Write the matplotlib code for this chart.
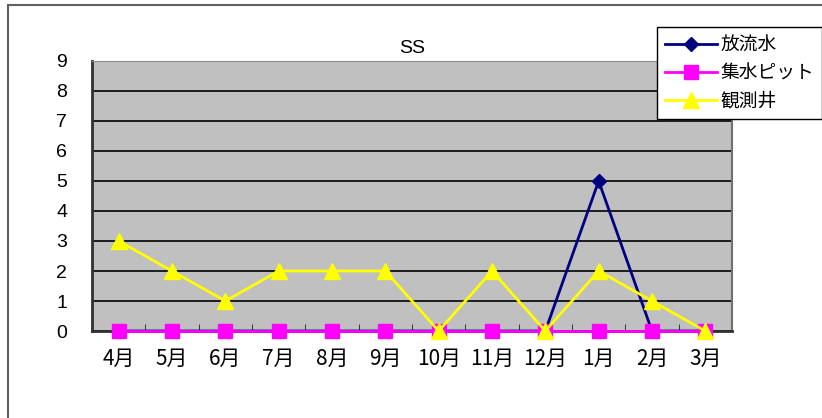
import matplotlib.pyplot as plt
from matplotlib.patches import Rectangle
import numpy as np

plt.rcParams['font.family'] = ['Noto Sans CJK JP', 'DejaVu Sans']

# データ
months = ['4月', '5月', '6月', '7月', '8月', '9月', '10月', '11月', '12月', '1月', '2月', '3月']
houryusui = [0, 0, 0, 0, 0, 0, 0, 0, 0, 5, 0, 0]      # 放流水
shusui_pit = [0, 0, 0, 0, 0, 0, 0, 0, 0, 0, 0, 0]     # 集水ピット
kansokusei = [3, 2, 1, 2, 2, 2, 0, 2, 0, 2, 1, 0]     # 観測井
yticks = [0, 1, 2, 3, 4, 5, 6, 7, 8, 9]

W, H = 822, 418
fig = plt.figure(figsize=(W / 100, H / 100), dpi=100)
ax = fig.add_axes([92 / W, 1 - 331 / H, 640 / W, 270 / H])
ax.set_facecolor('#c0c0c0')

x = np.arange(len(months))
ax.plot(x, houryusui, color='#000080', marker='D', markersize=7, lw=2, label='放流水', zorder=3, clip_on=False)
ax.plot(x, shusui_pit, color='#ff00ff', marker='s', markersize=10, lw=2, label='集水ピット', zorder=4, clip_on=False)
ax.plot(x, kansokusei, color='#ffff00', marker='^', markersize=11, lw=2, label='観測井', zorder=5, clip_on=False)

ax.set_xlim(-0.5, len(months) - 0.5)
ax.set_ylim(0, 9)
ax.set_yticks(yticks)
ax.set_yticklabels([str(v) for v in yticks], family='Liberation Sans', fontsize=14)
ax.yaxis.grid(True, color='black', lw=1.2)
ax.set_axisbelow(True)
ax.tick_params(axis='y', length=0, pad=18)

ax.set_xticks(x)
ax.set_xticklabels(months, fontsize=15)
ax.tick_params(axis='x', length=0, pad=12)
ax.set_xticks(np.arange(0.5, len(months) - 0.5), minor=True)
ax.tick_params(axis='x', which='minor', direction='in', length=5, color='#202020')

for s in ['left', 'bottom']:
    ax.spines[s].set_color('#303030')
    ax.spines[s].set_linewidth(2)
ax.spines['top'].set_color('#909090')
ax.spines['right'].set_color('#707070')
ax.spines['right'].set_linewidth(1.5)

ax.set_title('SS', family='Liberation Sans', fontsize=14, pad=6)

leg = ax.legend(loc='upper left', bbox_to_anchor=(657 / W, 1 - 27 / H),
                bbox_transform=fig.transFigure, fontsize=13.5, frameon=True,
                fancybox=False, edgecolor='black', framealpha=1, borderpad=0.4,
                borderaxespad=0, labelspacing=0.38, handlelength=2.8, handletextpad=0.2)
leg.get_frame().set_linewidth(1)
leg.set_zorder(10)

# 外枠
fig.patches.append(Rectangle((7.5 / W, -0.1), 2, 1.1 - 5.5 / H, transform=fig.transFigure,
                             fill=False, edgecolor='#606060', lw=1.5))

fig.savefig('out.png', dpi=100)
